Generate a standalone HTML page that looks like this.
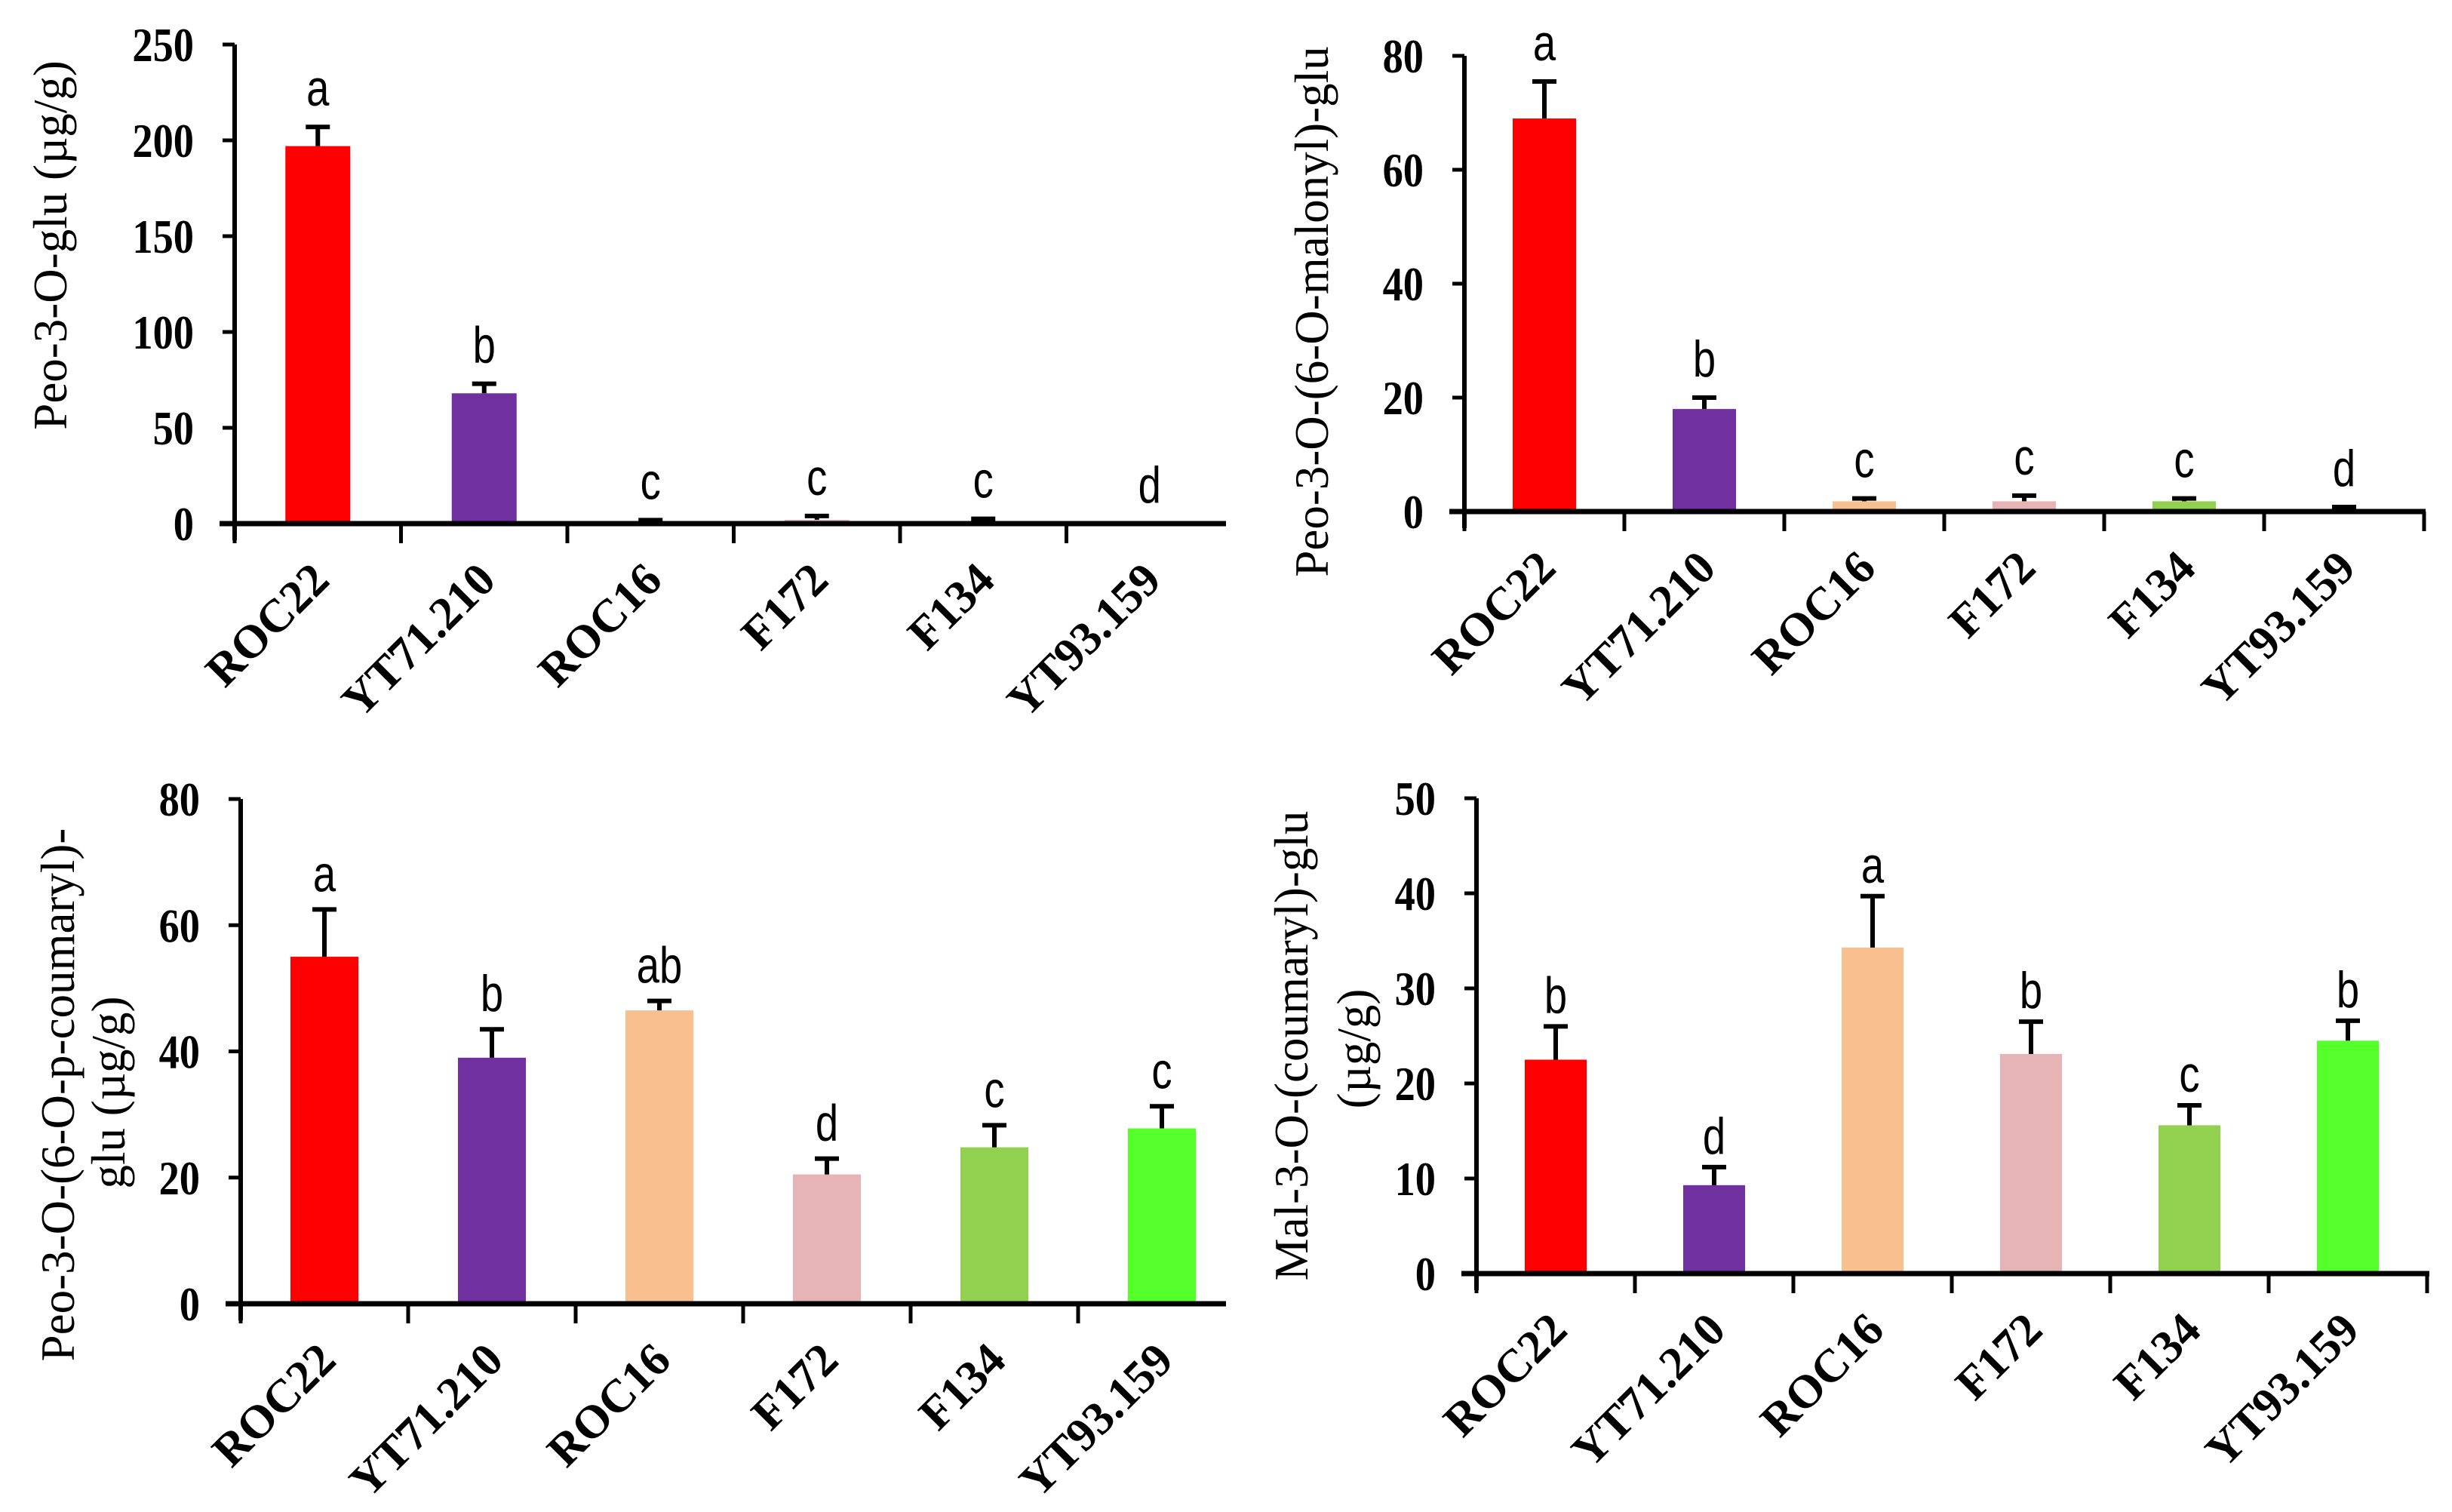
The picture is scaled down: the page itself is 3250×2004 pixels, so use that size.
<!DOCTYPE html>
<html><head><meta charset="utf-8">
<style>
html,body{margin:0;padding:0;background:#fff;width:3250px;height:2004px;overflow:hidden}
svg{display:block}
.tick{font-family:"Liberation Serif",serif;font-weight:bold;font-size:64px;fill:#000}
.xl{font-family:"Liberation Serif",serif;font-weight:bold;font-size:62px;fill:#000}
.ttl{font-family:"Liberation Serif",serif;font-size:63px;fill:#000}
.sig{font-family:"Liberation Sans",sans-serif;font-size:68px;fill:#000}
</style></head>
<body>
<svg id="fig" width="3250" height="2004" viewBox="0 0 3250 2004" xmlns="http://www.w3.org/2000/svg"></svg>
<script>
const categories = ["ROC22","YT71.210","ROC16","F172","F134","YT93.159"];
const colors = ["#ff0000","#7030a0","#f8bf8f","#e6b4b4","#92d050","#55ff2a"];
const p1Values = [197, 68, 1, 2, 1, 0];
const p1Errors = [10, 5, 0.8, 2, 1.5, 0];
const p1Sig = ["a","b","c","c","c","d"];
const p1Ticks = [0,50,100,150,200,250];
const p2Values = [69, 18, 1.8, 1.8, 1.8, 0];
const p2Errors = [6.5, 2, 0.5, 1, 0.5, 0.8];
const p2Sig = ["a","b","c","c","c","d"];
const p2Ticks = [0,20,40,60,80];
const p3Values = [55, 39, 46.5, 20.5, 24.8, 27.8];
const p3Errors = [7.5, 4.5, 1.5, 2.5, 3.5, 3.5];
const p3Sig = ["a","b","ab","d","c","c"];
const p3Ticks = [0,20,40,60,80];
const p4Values = [22.5, 9.3, 34.3, 23.1, 15.6, 24.5];
const p4Errors = [3.5, 1.9, 5.4, 3.4, 2.1, 2.1];
const p4Sig = ["b","d","a","b","c","b"];
const p4Ticks = [0,10,20,30,40,50];

const NS="http://www.w3.org/2000/svg";
const svg=document.getElementById('fig');
function mk(tag,attrs,parent,text){
  const e=document.createElementNS(NS,tag);
  for(const k in attrs)e.setAttribute(k,attrs[k]);
  if(text!==undefined)e.textContent=text;
  parent.appendChild(e);return e;
}
function panel(name,cfg,values,errors,sig,ticks){
  const g=mk('g',{},svg);
  
  
  const max=ticks[ticks.length-1];
  const y=v=>cfg.y0-(v/max)*(cfg.y0-cfg.yTop);
  const x=i=>cfg.x0+cfg.cw*i;
  const ya=mk('line',{x1:cfg.x0,y1:cfg.yTop,x2:cfg.x0,y2:cfg.y0+22,stroke:'#000','stroke-width':6},g);
  
  
  ticks.forEach(t=>{
    mk('line',{x1:cfg.x0-16,y1:y(t),x2:cfg.x0,y2:y(t),stroke:'#000','stroke-width':5},g);
    const tl=mk('text',{x:0,y:0,'text-anchor':'end',class:'tick',transform:`translate(${cfg.x0-54} ${y(t)+22}) scale(0.85 1)`},g,String(t));
    
    
  });
  values.forEach((v,i)=>{
    const cx=x(i)+cfg.cw*0.5;
    const bw=cfg.bw;
    const b=mk('rect',{x:cx-bw/2,y:y(v),width:bw,height:cfg.y0-y(v),fill:colors[i]},g);
    
    
    const top=y(v+errors[i]);
    const eb=mk('path',{d:`M${cx},${y(v)} L${cx},${top} M${cx-16},${top} L${cx+16},${top}`,stroke:'#000','stroke-width':6,fill:'none'},g);
    
    
    const s=mk('text',{x:0,y:0,'text-anchor':'middle',class:'sig',transform:`translate(${cx} ${top-cfg.gap}) scale(0.8 1)`},g,sig[i]);
    
    
    const lx=cx+18, ly=cfg.y0+78;
    const xl=mk('text',{x:lx,y:ly,'text-anchor':'end',class:'xl',transform:`rotate(-45 ${lx} ${ly})`},g,categories[i]);
    
    
  });
  const xa=mk('line',{x1:cfg.x0-20,y1:cfg.y0,x2:cfg.xEnd,y2:cfg.y0,stroke:'#000','stroke-width':7},g);
  
  
  for(let i=0;i<=6;i++){
    const tx=x(i);
    if(tx<=cfg.xEnd) mk('line',{x1:tx,y1:cfg.y0,x2:tx,y2:cfg.y0+26,stroke:'#000','stroke-width':5},g);
  }
  cfg.title.forEach(ln=>{
    const t=mk('text',{x:ln.x,y:ln.y,'text-anchor':'middle',class:'ttl',transform:`rotate(-90 ${ln.x} ${ln.y})`},g,ln.t);
    
    
  });
}
panel('panel-peo-3-o-glu',{x0:311,y0:694,yTop:59,cw:220.5,bw:86,xEnd:1625,gap:28,
  title:[{t:'Peo-3-O-glu (µg/g)',x:88,y:325}]},p1Values,p1Errors,p1Sig,p1Ticks);
panel('panel-peo-malonyl',{x0:1941,y0:678,yTop:74,cw:212,bw:84,xEnd:3215,gap:28,
  title:[{t:'Peo-3-O-(6-O-malonyl)-glu',x:1760,y:413}]},p2Values,p2Errors,p2Sig,p2Ticks);
panel('panel-peo-coumaryl',{x0:319,y0:1728,yTop:1059,cw:222,bw:90,xEnd:1625,gap:24,
  title:[{t:'Peo-3-O-(6-O-p-coumaryl)-',x:98,y:1451},{t:'glu (µg/g)',x:165,y:1448}]},p3Values,p3Errors,p3Sig,p3Ticks);
panel('panel-mal-coumaryl',{x0:1957,y0:1688,yTop:1058,cw:210,bw:82,xEnd:3220,gap:18,
  title:[{t:'Mal-3-O-(coumaryl)-glu',x:1733,y:1386},{t:'(µg/g)',x:1816,y:1390}]},p4Values,p4Errors,p4Sig,p4Ticks);
</script>
</body></html>
